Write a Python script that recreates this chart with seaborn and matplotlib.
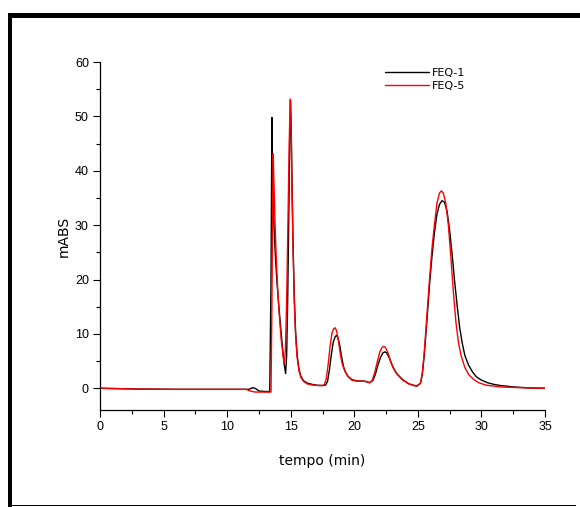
import matplotlib
matplotlib.use("Agg")
import matplotlib.pyplot as plt
from matplotlib.ticker import MultipleLocator
from matplotlib.patches import Rectangle
import seaborn as sns
import pandas as pd

# ---- data ----
t_feq1 = [0, 3, 6, 10, 11.7, 12.0, 12.2, 12.5, 13.0, 13.35, 13.45, 13.52, 13.56, 13.62, 13.7,
          13.8, 13.92, 14.05, 14.2, 14.35, 14.48, 14.6, 14.68, 14.76, 14.84, 14.92, 14.98,
          15.04, 15.1, 15.18, 15.28, 15.38, 15.5, 15.65, 15.8, 16.0, 16.3, 16.7, 17.1,
          17.5, 17.75, 17.9, 18.05, 18.2, 18.35, 18.5, 18.6, 18.7, 18.85, 19.0, 19.15,
          19.3, 19.5, 19.8, 20.2, 20.8, 21.2, 21.45, 21.65, 21.85, 22.05, 22.25, 22.4,
          22.55, 22.75, 22.95, 23.15, 23.4, 23.85, 24.3, 24.9, 25.2, 25.35, 25.5, 25.7,
          25.9, 26.1, 26.3, 26.5, 26.7, 26.9, 27.1, 27.3, 27.5, 27.7, 27.9, 28.1, 28.3,
          28.5, 28.7, 29.0, 29.3, 29.6, 30.0, 30.5, 31.0, 31.5, 32.5, 33.8, 35]
v_feq1 = [0.0, -0.15, -0.2, -0.2, -0.2, 0.1, 0.0, -0.5, -0.6, -0.6, 20, 49.8, 42, 35, 29,
          24, 19.5, 15.5, 11.5, 7.5, 4.5, 2.7, 6, 16, 30, 45, 53.0,
          48, 38, 27, 17, 10.5, 6.2, 3.5, 2.2, 1.4, 0.95, 0.7, 0.55,
          0.5, 0.6, 1.3, 3.5, 6.3, 8.5, 9.5, 9.7, 9.4, 8.0, 5.8, 4.0,
          3.0, 2.2, 1.6, 1.35, 1.3, 1.05, 1.4, 2.5, 4.2, 5.6, 6.5, 6.7,
          6.5, 5.6, 4.4, 3.4, 2.5, 1.5, 0.8, 0.4, 0.9, 2.5, 6, 12,
          18.5, 24, 28.5, 32, 33.8, 34.5, 34.2, 32.5, 29, 24.5, 19.5, 15, 11,
          8.2, 6.0, 4.2, 3.0, 2.1, 1.5, 1.0, 0.7, 0.5, 0.25, 0.05, 0.0]

t_feq5 = [0, 3, 6, 10, 11.5, 11.8, 12.2, 13.0, 13.45, 13.52, 13.58, 13.62, 13.68, 13.76,
          13.86, 13.98, 14.1, 14.25, 14.4, 14.5, 14.58, 14.68, 14.78, 14.88, 14.96, 15.03,
          15.1, 15.18, 15.28, 15.38, 15.5, 15.65, 15.8, 16.0, 16.3, 16.7, 17.1, 17.5,
          17.65, 17.8, 17.95, 18.1, 18.25, 18.4, 18.5, 18.6, 18.75, 18.9, 19.05, 19.25,
          19.5, 19.8, 20.2, 20.8, 21.2, 21.4, 21.6, 21.8, 22.0, 22.15, 22.3, 22.45, 22.65,
          22.85, 23.05, 23.3, 23.8, 24.3, 24.9, 25.2, 25.35, 25.5, 25.7, 25.9, 26.1, 26.3,
          26.5, 26.7, 26.85, 27.0, 27.2, 27.4, 27.6, 27.8, 28.0, 28.2, 28.4, 28.7, 29.0,
          29.4, 29.8, 30.4, 31.5, 33.0, 35]
v_feq5 = [0.0, -0.15, -0.2, -0.2, -0.2, -0.5, -0.7, -0.7, -0.7, 15, 35, 43.1, 38, 31,
          24, 18, 13.5, 9, 6, 4.5, 7, 16, 30, 45, 53.2, 48,
          37, 26, 16, 10, 5.8, 3.2, 2.0, 1.3, 0.8, 0.6, 0.5, 0.5,
          0.7, 1.8, 4.5, 7.8, 10.2, 11.0, 11.1, 10.6, 8.8, 6.3, 4.5, 3.2,
          2.2, 1.5, 1.3, 1.3, 1.0, 1.4, 2.8, 4.8, 6.6, 7.4, 7.7, 7.5, 6.5,
          5.0, 3.8, 2.8, 1.5, 0.8, 0.35, 0.9, 2.8, 6.5, 13, 19.5, 25.5, 30,
          34, 35.9, 36.3, 35.9, 34, 30, 24, 17.5, 12, 8.3, 6.0, 3.8, 2.5,
          1.6, 1.0, 0.55, 0.25, 0.1, 0.0]

series_names = ["FEQ-1", "FEQ-5"]
series_colors = ["#000000", "#ff0000"]
x_ticks = [0, 5, 10, 15, 20, 25, 30, 35]
y_ticks = [0, 10, 20, 30, 40, 50, 60]

df1 = pd.DataFrame({"tempo": t_feq1, "mABS": v_feq1})
df5 = pd.DataFrame({"tempo": t_feq5, "mABS": v_feq5})

# ---- figure ----
sns.set_style("ticks")
plt.rcParams["font.family"] = ["Liberation Sans", "DejaVu Sans"]
plt.rcParams["text.color"] = "black"
plt.rcParams["axes.labelcolor"] = "black"

W, H = 580, 507
fig = plt.figure(figsize=(W / 100, H / 100), dpi=100)
ax = fig.add_axes([100 / W, 1 - 410 / H, 445 / W, 348 / H])

sns.lineplot(data=df1, x="tempo", y="mABS", ax=ax, color=series_colors[0],
             linewidth=1.0, label=series_names[0], sort=False)
sns.lineplot(data=df5, x="tempo", y="mABS", ax=ax, color=series_colors[1],
             linewidth=1.0, label=series_names[1], sort=False)

ax.set_xlim(0, 35)
ax.set_ylim(-4, 60)
ax.set_xticks(x_ticks)
ax.set_yticks(y_ticks)
ax.xaxis.set_minor_locator(MultipleLocator(2.5))
ax.yaxis.set_minor_locator(MultipleLocator(5))
ax.tick_params(axis="both", which="major", direction="out", length=5, width=0.8,
               labelsize=9, color="black", labelcolor="black", pad=3)
ax.tick_params(axis="both", which="minor", direction="out", length=3, width=0.8,
               color="black")
sns.despine(ax=ax)
for s in ["left", "bottom"]:
    ax.spines[s].set_linewidth(0.9)
    ax.spines[s].set_color("black")

ax.set_xlabel("tempo (min)", fontsize=10, family=["DejaVu Sans"], labelpad=15,
              color="black")
ax.set_ylabel("mABS", fontsize=10, family=["DejaVu Sans"], labelpad=3, color="black")

leg = ax.legend(loc="upper left", bbox_to_anchor=(0.64, 0.984), frameon=False,
                borderaxespad=0, borderpad=0, handlelength=4.0, handletextpad=0.25,
                labelspacing=0.3, prop={"family": "DejaVu Sans", "size": 8})
for line in leg.get_lines():
    line.set_linewidth(1.0)
for txt in leg.get_texts():
    txt.set_color("black")

# ---- outer frame (thick top & left, thin bottom) ----
def rect_px(x0, y0, x1, y1):
    fig.add_artist(Rectangle((x0 / W, 1 - y1 / H), (x1 - x0) / W, (y1 - y0) / H,
                             transform=fig.transFigure, facecolor="black",
                             edgecolor="none", zorder=10))

rect_px(7.5, 13, W, 17.5)
rect_px(7.5, 13, 12, H)
rect_px(12, 505, 576, 506.2)

fig.savefig("out.png", dpi=100)
